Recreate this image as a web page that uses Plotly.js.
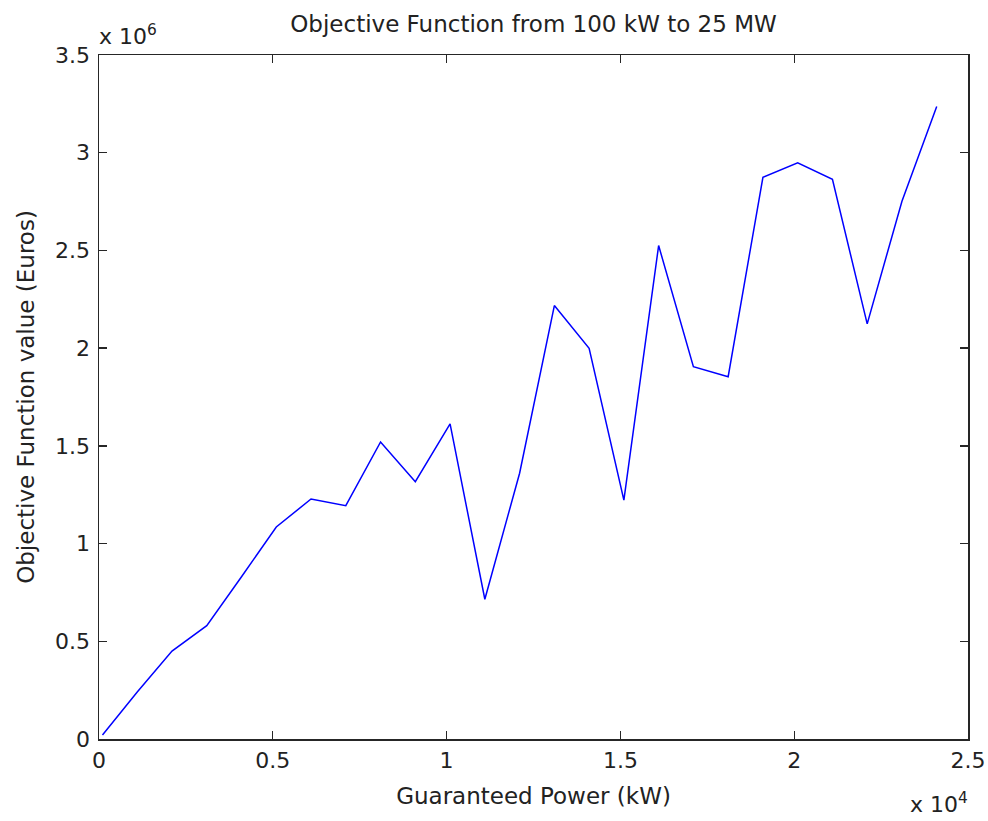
<!DOCTYPE html>
<html>
<head>
<meta charset="utf-8">
<script src="https://cdn.plot.ly/plotly-3.0.1.min.js"></script>
<style>html,body{margin:0;padding:0;background:#fff;}#chart{width:988px;height:821px;}</style>
</head>
<body>
<div id="chart"></div>
<script>
// Guaranteed power (kW)
const guaranteedPower = [100, 1100, 2100, 3100, 4100, 5100, 6100, 7100, 8100, 9100,
  10100, 11100, 12100, 13100, 14100, 15100, 16100, 17100, 18100, 19100,
  20100, 21100, 22100, 23100, 24100];
// Objective function value (Euros)
const objectiveValue = [0.02e6, 0.24e6, 0.45e6, 0.58e6, 0.83e6, 1.085e6, 1.228e6, 1.194e6, 1.52e6, 1.317e6,
  1.612e6, 0.715e6, 1.36e6, 2.218e6, 1.999e6, 1.222e6, 2.525e6, 1.905e6, 1.854e6, 2.874e6,
  2.948e6, 2.864e6, 2.124e6, 2.752e6, 3.236e6];

const xTickVals = [0, 5000, 10000, 15000, 20000, 25000];
const xTickText = ['0', '0.5', '1', '1.5', '2', '2.5'];
const yTickVals = [0, 0.5e6, 1e6, 1.5e6, 2e6, 2.5e6, 3e6, 3.5e6];
const yTickText = ['0', '0.5', '1', '1.5', '2', '2.5', '3', '3.5'];

const FONT = 'DejaVu Sans, Arial, sans-serif';
const TXT = '#222222';

const trace = {
  x: guaranteedPower,
  y: objectiveValue,
  type: 'scatter',
  mode: 'lines',
  line: {color: '#0000ff', width: 1.5},
  hoverinfo: 'x+y'
};

const axisCommon = {
  showgrid: false,
  zeroline: false,
  showline: true,
  linecolor: '#262626',
  linewidth: 1.5,
  mirror: 'ticks',
  ticks: 'inside',
  ticklen: 8,
  tickwidth: 1.3,
  tickcolor: '#262626',
  tickmode: 'array',
  tickfont: {family: FONT, size: 22, color: TXT},
  fixedrange: true
};

const layout = {
  width: 988,
  height: 821,
  paper_bgcolor: '#ffffff',
  plot_bgcolor: '#ffffff',
  showlegend: false,
  margin: {l: 99, r: 20, t: 55, b: 82, pad: 0},
  title: {
    text: 'Objective Function from 100 kW to 25 MW',
    font: {family: FONT, size: 23, color: TXT},
    x: 0.5, xref: 'paper', xanchor: 'center',
    y: 1, yref: 'container', yanchor: 'top', pad: {t: 16}
  },
  xaxis: Object.assign({}, axisCommon, {
    range: [0, 25000],
    tickvals: xTickVals,
    ticktext: xTickText,
    ticklabelstandoff: 1,
    title: {text: 'Guaranteed Power (kW)', font: {family: FONT, size: 23, color: TXT}, standoff: 16}
  }),
  yaxis: Object.assign({}, axisCommon, {
    range: [0, 3.5e6],
    tickvals: yTickVals,
    ticktext: yTickText,
    ticklabelstandoff: 3,
    title: {text: 'Objective Function value (Euros)', font: {family: FONT, size: 23, color: TXT}, standoff: 14}
  }),
  annotations: [
    {
      text: 'x 10<sup>6</sup>', xref: 'paper', yref: 'paper', x: 0, y: 1,
      xanchor: 'left', yanchor: 'bottom', yshift: 4, xshift: -2, showarrow: false,
      font: {family: FONT, size: 22, color: TXT}
    },
    {
      text: 'x 10<sup>4</sup>', xref: 'paper', yref: 'paper', x: 1, y: 0,
      xanchor: 'right', yanchor: 'top', yshift: -48, xshift: 2, showarrow: false,
      font: {family: FONT, size: 22, color: TXT}
    }
  ]
};

Plotly.newPlot('chart', [trace], layout, {displayModeBar: false, staticPlot: true});
</script>
</body>
</html>
